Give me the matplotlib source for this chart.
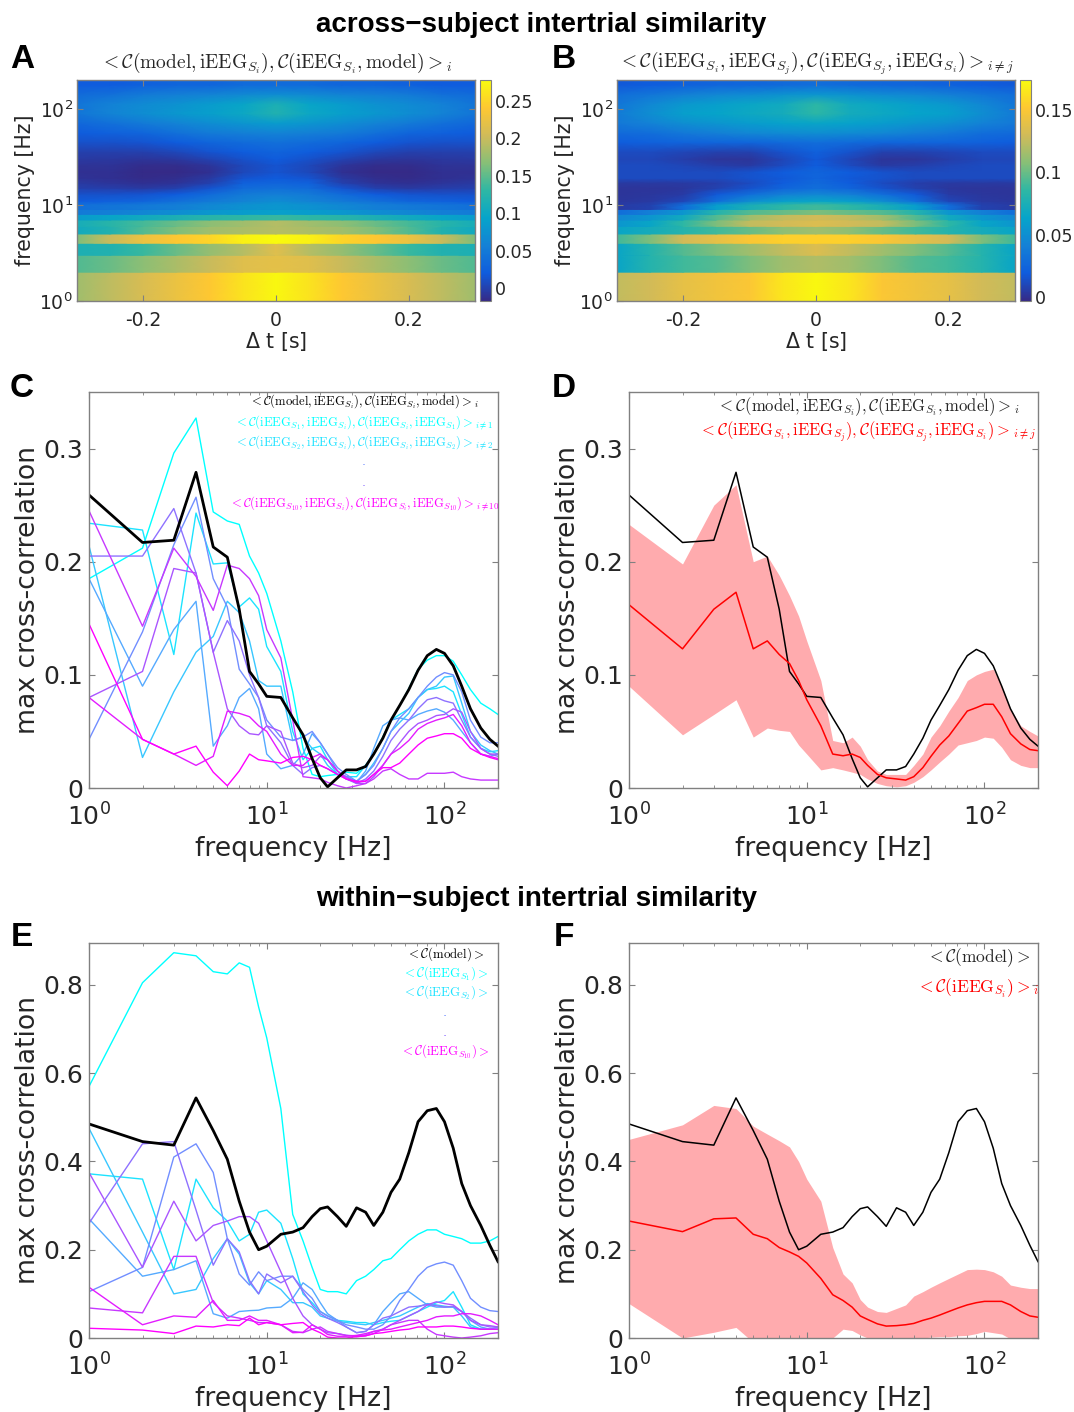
import numpy as np
import matplotlib
matplotlib.use("Agg")
import matplotlib.pyplot as plt
from matplotlib.colors import LinearSegmentedColormap, Normalize
from matplotlib.cm import ScalarMappable
from matplotlib.ticker import FixedLocator, NullFormatter, LogLocator

plt.rcParams['font.family'] = 'DejaVu Sans'
plt.rcParams['mathtext.fontset'] = 'dejavusans'

W, H = 1074, 1412
freqs = [1,2,3,4,5,6,7,8,9,10, 12,14,16,18,20, 22,25,28,32,36, 40,45,50,56,63, 71,80,90,100,112, 125,140,160,180,200]

# panel C
c_black = [.259,.217,.219,.279,.213,.204,.158,.103,.092,.081, .080,.062,.047,.026,.009, .001,.009,.016,.016,.019, .03,.044,.06,.073,.087, .104,.117,.1225,.119,.108, .09,.07,.053,.043,.037]
c_s1 = [.185,.212,.296,.327,.244,.236,.233,.205,.19,.172, .13,.085,.035,.012,.010, .011,.012,.014,.013,.02, .03,.045,.06,.073,.088, .105,.113,.117,.117,.112, .10,.087,.075,.07,.065]
c_s2 = [.234,.228,.118,.243,.198,.199,.16,.168,.158,.125, .103,.05,.025,.035,.037, .025,.012,.01,.01,.02, .03,.045,.06,.065,.07, .08,.087,.088,.09,.085, .065,.045,.035,.032,.033]
c_s3 = [.214,.027,.085,.12,.134,.165,.155,.13,.095,.09, .09,.042,.045,.035,.03, .02,.012,.01,.006,.012, .022,.035,.05,.058,.066, .08,.087,.09,.098,.099, .075,.05,.038,.033,.03]
c_s4 = [.185,.09,.14,.165,.037,.055,.08,.088,.07,.03, .017,.02,.03,.048,.04, .03,.015,.008,.005,.015, .035,.055,.06,.062,.06, .065,.068,.07,.067,.06, .05,.04,.03,.028,.03]
c_s5 = [.043,.138,.215,.257,.185,.16,.105,.092,.08,.06, .045,.042,.045,.05,.04, .03,.018,.012,.006,.012, .02,.035,.05,.062,.07, .08,.09,.098,.102,.10, .085,.06,.045,.04,.04]
c_s6 = [.205,.205,.247,.19,.12,.148,.13,.10,.08,.055, .04,.02,.012,.018,.02, .017,.012,.008,.004,.008, .015,.028,.042,.052,.06, .07,.078,.08,.077,.075, .06,.045,.035,.03,.028]
c_s7 = [.08,.103,.194,.19,.12,.07,.055,.048,.047,.055, .05,.022,.018,.02,.028, .025,.015,.01,.004,.004, .01,.02,.03,.04,.05, .057,.06,.064,.065,.07, .067,.05,.035,.03,.03]
c_s8 = [.245,.143,.212,.187,.157,.197,.194,.185,.17,.14, .115,.06,.01,.009,.008, .005,.002,0,.002,.004, .008,.015,.017,.012,.008, .008,.013,.013,.013,.014, .01,.008,.007,.007,.007]
c_s9 = [.08,.043,.03,.02,.028,.068,.066,.063,.055,.05, .03,.02,.02,.027,.03, .025,.015,.008,.005,.006, .012,.02,.03,.035,.042, .052,.057,.06,.062,.065, .055,.04,.03,.028,.026]
c_s10 = [.145,.043,.03,.037,.014,.002,.015,.03,.025,.024, .022,.027,.028,.025,.02, .017,.012,.008,.006,.006, .012,.018,.018,.022,.03, .038,.044,.046,.048,.048, .044,.035,.03,.027,.025]

# panel D
d_mean = [.162,.123,.158,.173,.123,.13,.118,.11,.095,.078, .055,.03,.0285,.03,.027, .02,.012,.009,.008,.007, .01,.018,.028,.038,.046, .057,.068,.071,.074,.074, .063,.048,.039,.034,.033]
d_hi = [.233,.198,.25,.268,.2,.205,.188,.17,.152,.13, .095,.042,.04,.045,.037, .025,.015,.012,.012,.012, .02,.03,.045,.055,.068, .08,.095,.10,.103,.105, .09,.07,.055,.05,.046]
d_lo = [.09,.047,.065,.078,.045,.053,.051,.05,.038,.03, .016,.018,.016,.014,.012, .008,.004,.002,.001,.002, .005,.01,.016,.023,.03, .038,.04,.042,.045,.044, .036,.025,.02,.018,.018]

# panel E
e_black = [.485,.445,.437,.544,.47,.405,.31,.24,.20,.208, .235,.24,.25,.275,.293, .297,.275,.253,.295,.285, .255,.285,.33,.36,.42, .49,.515,.52,.49,.43, .35,.30,.255,.21,.173]
e_s1 = [.57,.805,.873,.866,.83,.825,.85,.84,.75,.68, .52,.28,.22,.16,.11, .105,.105,.10,.13,.14, .155,.175,.18,.2,.22, .235,.245,.245,.235,.23, .225,.215,.215,.22,.23]
e_s2 = [.372,.36,.155,.36,.295,.265,.22,.235,.285,.29, .26,.18,.1,.08,.06, .05,.04,.038,.035,.035, .03,.035,.038,.04,.05, .06,.07,.08,.085,.105, .07,.03,.02,.02,.02]
e_s3 = [.475,.24,.10,.11,.18,.225,.19,.125,.10,.13, .11,.08,.08,.07,.05, .045,.038,.035,.032,.03, .035,.04,.045,.05,.06, .07,.078,.075,.072,.07, .05,.025,.02,.02,.02]
e_s4 = [.27,.14,.155,.175,.055,.045,.06,.062,.063,.068, .07,.09,.125,.11,.08, .055,.04,.025,.012,.015, .03,.06,.08,.10,.105, .09,.075,.07,.07,.07, .06,.04,.025,.02,.025]
e_s5 = [.105,.16,.41,.44,.375,.225,.145,.12,.15,.13, .14,.14,.11,.09,.06, .05,.04,.03,.025,.02, .02,.03,.05,.085,.11, .14,.16,.168,.172,.165, .13,.09,.07,.062,.06]
e_s6 = [.26,.44,.445,.29,.165,.225,.195,.13,.10,.145, .125,.14,.105,.075,.055, .045,.035,.025,.012,.015, .03,.045,.05,.06,.07, .072,.076,.073,.07,.072, .06,.045,.03,.025,.025]
e_s7 = [.375,.16,.31,.22,.255,.265,.275,.275,.26,.22, .15,.09,.05,.03,.02, .012,.01,.006,.005,.007, .015,.02,.03,.04,.05, .06,.075,.082,.078,.075, .06,.04,.03,.028,.025]
e_s8 = [.068,.057,.185,.185,.08,.05,.045,.04,.035,.035, .03,.015,.012,.02,.025, .015,.01,.006,.003,.005, .01,.02,.03,.035,.04, .04,.02,.008,.005,.002, 0,.002,.005,.01,.012]
e_s9 = [.115,.03,.05,.047,.085,.04,.04,.05,.04,.04, .03,.012,.013,.03,.02, .008,.004,.004,.006,.01, .015,.018,.02,.025,.03, .035,.04,.048,.05,.05, .055,.055,.05,.04,.03]
e_s10 = [.022,.018,.01,.027,.025,.03,.028,.045,.03,.035, .03,.033,.035,.02,.012, .002,0,0,.003,.005, .01,.012,.015,.018,.02, .025,.025,.025,.027,.027, .025,.022,.02,.02,.02]

# panel F
f_mean = [.265,.241,.27,.272,.235,.225,.205,.195,.185,.17, .135,.098,.085,.07,.05, .042,.032,.027,.028,.03, .033,.04,.045,.052,.06, .068,.075,.08,.083,.083, .083,.075,.06,.05,.047]
f_hi = [.45,.483,.527,.52,.48,.462,.447,.433,.40,.36, .31,.205,.145,.125,.087, .07,.06,.058,.067,.075, .095,.105,.115,.125,.135, .145,.155,.156,.155,.15, .14,.12,.115,.112,.112]
f_lo = [.078,0,.013,.024,-.01,-.03,-.03,-.03,-.03,-.03, -.02,0,.02,.017,.007, 0,-.005,-.005,-.005,-.004, -.002,0,.002,.003,.003, .005,.006,.01,.015,.012, .009,-.002,-.005,-.008,-.01]

# heatmaps: rows of frequency bands, columns at |lag|
lags_half = [0, .05, .1, .15, .2, .25, .3]
band_edges = [1,2,3,4,5,6,7,8,9,10,12,14,16,18,20,24,28,32,40,50,63,80,100,125,160,200]
heat_a = [
 [.275,.26,.24,.225,.21,.195,.18],
 [.22,.215,.20,.185,.17,.155,.145],
 [.215,.19,.175,.155,.135,.12,.115],
 [.278,.27,.25,.24,.225,.20,.165],
 [.19,.185,.18,.165,.145,.12,.105],
 [.19,.18,.17,.155,.14,.125,.11],
 [.135,.13,.125,.115,.105,.095,.085],
 [.09,.085,.08,.07,.062,.055,.05],
 [.08,.075,.065,.055,.05,.045,.04],
 [.07,.06,.05,.04,.03,.025,.02],
 [.055,.05,.035,.02,.015,.012,.012],
 [.04,.035,.015,0,-.005,-.002,0],
 [.03,.025,0,-.01,-.012,-.008,-.005],
 [.02,.015,-.005,-.013,-.015,-.012,-.01],
 [.015,.005,-.012,-.016,-.016,-.012,-.012],
 [.015,.005,-.008,-.014,-.014,-.01,-.01],
 [.02,.012,.002,-.006,-.008,-.006,-.005],
 [.028,.022,.015,.005,0,0,0],
 [.04,.035,.03,.02,.015,.012,.012],
 [.06,.055,.05,.04,.03,.025,.02],
 [.085,.078,.07,.06,.05,.04,.032],
 [.12,.10,.088,.08,.07,.06,.045],
 [.115,.095,.085,.075,.068,.058,.045],
 [.07,.065,.06,.055,.05,.04,.035],
 [.035,.035,.03,.03,.025,.02,.02],
]
heat_b = [
 [.172,.165,.15,.145,.14,.13,.125],
 [.12,.115,.105,.095,.09,.08,.065],
 [.135,.125,.115,.105,.095,.08,.065],
 [.155,.155,.15,.14,.13,.105,.09],
 [.115,.11,.10,.09,.08,.072,.065],
 [.135,.13,.125,.105,.085,.065,.055],
 [.13,.125,.115,.095,.07,.055,.045],
 [.105,.10,.095,.08,.055,.04,.03],
 [.09,.085,.075,.06,.03,.008,.005],
 [.065,.06,.05,.03,.01,.004,.003],
 [.045,.04,.03,.018,.005,.003,.002],
 [.03,.025,.015,.008,.003,.002,.002],
 [.028,.02,.012,.006,.004,.004,.004],
 [.025,.018,.015,.012,.012,.012,.012],
 [.025,.02,.015,.012,.012,.012,.012],
 [.02,.012,.004,.006,.01,.012,.012],
 [.018,.01,.002,.0025,.006,.01,.01],
 [.022,.015,.008,.008,.01,.012,.012],
 [.03,.028,.025,.025,.024,.022,.02],
 [.05,.048,.045,.04,.036,.03,.028],
 [.065,.062,.058,.054,.05,.042,.036],
 [.085,.072,.068,.064,.06,.05,.038],
 [.085,.07,.066,.06,.056,.046,.035],
 [.055,.052,.048,.045,.04,.035,.03],
 [.03,.028,.026,.025,.022,.02,.018],
]
cb_a_ticks = [0,.05,.1,.15,.2,.25]
cb_a_labels = ['0','0.05','0.1','0.15','0.2','0.25']
cb_b_ticks = [0,.05,.1,.15]
cb_b_labels = ['0','0.05','0.1','0.15']

parula = LinearSegmentedColormap.from_list('parula', ['#352a87','#0f5cdd','#1481d6','#06a4ca','#2eb7a4','#87bf77','#d1bb59','#fec832','#f9fb0e'])
GRAY = '#808080'
TXT = '#262626'

fig = plt.figure(figsize=(W/100, H/100), dpi=100, facecolor='white')

def axpx(l, t, r, b):
    return fig.add_axes([l/W, 1-b/H, (r-l)/W, (b-t)/H])

def ftext(x, y, s, **kw):
    kw.setdefault('ha', 'center'); kw.setdefault('va', 'center')
    return fig.text(x/W, 1-y/H, s, **kw)

def style(ax, size, xpad, ypad):
    for s in ax.spines.values():
        s.set_color(GRAY); s.set_linewidth(1.0)
    ax.tick_params(which='major', direction='in', top=True, right=True, length=4, width=.8, color=GRAY, labelsize=size, labelcolor=TXT)
    ax.tick_params(which='minor', direction='in', top=True, right=True, length=2, width=.6, color=GRAY)
    ax.tick_params(axis='x', which='major', pad=xpad)
    ax.tick_params(axis='y', which='major', pad=ypad)

def heat(l, r, data, vmin, vmax, ticks, labels):
    ax = axpx(l, 80, r, 301)
    arr = np.array(data)
    full = np.hstack([arr[:, :0:-1], arr])
    x = np.r_[-np.array(lags_half)[:0:-1], lags_half]
    ys, rows = [], []
    for i in range(len(band_edges)-1):
        lo, hi = band_edges[i], band_edges[i+1]
        if hi <= 10:
            ys += [lo, hi*0.9999]; rows += [full[i], full[i]]
        else:
            ys.append(np.sqrt(lo*hi)); rows.append(full[i])
    ys.append(band_edges[-1]); rows.append(full[-1])
    ax.pcolormesh(x, ys, np.array(rows), shading='gouraud', cmap=parula, vmin=vmin, vmax=vmax, rasterized=True)
    ax.set_yscale('log'); ax.set_ylim(1, 200); ax.set_xlim(-.3, .3)
    ax.set_xticks([-.2, 0, .2]); ax.set_xticklabels(['-0.2', '0', '0.2'])
    ax.yaxis.set_major_locator(FixedLocator([1, 10, 100]))
    ax.yaxis.set_minor_locator(FixedLocator([])); ax.yaxis.set_minor_formatter(NullFormatter())
    style(ax, 13.5, 7, 3)
    ax.set_xlabel(r'$\Delta$ t [s]', fontsize=14.8, color=TXT)
    ax.xaxis.set_label_coords(.5, -.185)
    ax.set_ylabel('frequency [Hz]', fontsize=14.8, color=TXT)
    ax.yaxis.set_label_coords(-.13, .5)
    ax.xaxis.label.set_va('center'); ax.yaxis.label.set_va('center')
    cax = axpx(r+5, 80, r+16, 301)
    cb = fig.colorbar(ScalarMappable(Normalize(vmin, vmax), parula), cax=cax)
    cb.set_ticks(ticks); cb.set_ticklabels(labels)
    cb.ax.tick_params(labelsize=12.5, length=0, labelcolor=TXT, pad=3)
    cb.outline.set_edgecolor(GRAY); cb.outline.set_linewidth(.8)

def linepanel(l, t, r, b, ymax, yticks, ylabels):
    ax = axpx(l, t, r, b)
    ax.set_xscale('log'); ax.set_xlim(1, 200); ax.set_ylim(0, ymax)
    ax.xaxis.set_major_locator(FixedLocator([1, 10, 100]))
    ax.xaxis.set_minor_locator(LogLocator(base=10, subs=range(2, 10), numticks=12))
    ax.xaxis.set_minor_formatter(NullFormatter())
    ax.set_yticks(yticks); ax.set_yticklabels(ylabels)
    style(ax, 18, 11, 4)
    ax.set_xlabel('frequency [Hz]', fontsize=19.2, color=TXT)
    ax.xaxis.set_label_coords(.5, -61/(b-t))
    ax.set_ylabel('max cross-correlation', fontsize=19.2, color=TXT)
    ax.yaxis.set_label_coords(-61/(r-l), .5)
    ax.xaxis.label.set_va('center'); ax.yaxis.label.set_va('center')
    return ax

c_series = [c_s1, c_s2, c_s3, c_s4, c_s5, c_s6, c_s7, c_s8, c_s9, c_s10]
e_series = [e_s1, e_s2, e_s3, e_s4, e_s5, e_s6, e_s7, e_s8, e_s9, e_s10]
cool = plt.get_cmap('cool')
cols = [cool(i/9) for i in range(10)]

# Titles
bold = dict(family='Liberation Sans', fontweight='bold', color='black')
ftext(541, 25, 'across\u2212subject intertrial similarity', fontsize=20, **bold)
ftext(537, 899, 'within\u2212subject intertrial similarity', fontsize=20, **bold)
for s, x, y in [('A', 22, 60), ('B', 564, 60), ('C', 22, 388), ('D', 564, 388), ('E', 22, 938), ('F', 564, 938)]:
    ftext(x, y, s, fontsize=24, **bold)

# A, B
heat(77, 475, heat_a, -.017, .278, cb_a_ticks, cb_a_labels)
heat(617, 1015, heat_b, -.003, .174, cb_b_ticks, cb_b_labels)
ftext(276, 63, r'$<\mathcal{C}(\mathrm{model,iEEG}_{S_i}),\mathcal{C}(\mathrm{iEEG}_{S_i},\mathrm{model})>_i$', fontsize=14, math_fontfamily='cm', color=TXT)
ftext(816, 63, r'$<\mathcal{C}(\mathrm{iEEG}_{S_i},\mathrm{iEEG}_{S_j}),\mathcal{C}(\mathrm{iEEG}_{S_j},\mathrm{iEEG}_{S_i})>_{i\neq j}$', fontsize=14, math_fontfamily='cm', color=TXT)

# C
ax = linepanel(89, 392, 498, 788, .35, [0, .1, .2, .3], ['0', '0.1', '0.2', '0.3'])
for y, col in zip(c_series, cols):
    ax.plot(freqs, y, color=col, lw=1.0)
ax.plot(freqs, c_black, color='k', lw=2.0)
ctexts = [(402, 'k', r'$<\mathcal{C}(\mathrm{model,iEEG}_{S_i}),\mathcal{C}(\mathrm{iEEG}_{S_i},\mathrm{model})>_i$'),
          (423, cols[0], r'$<\mathcal{C}(\mathrm{iEEG}_{S_1},\mathrm{iEEG}_{S_i}),\mathcal{C}(\mathrm{iEEG}_{S_i},\mathrm{iEEG}_{S_1})>_{i\neq 1}$'),
          (443, cols[1], r'$<\mathcal{C}(\mathrm{iEEG}_{S_2},\mathrm{iEEG}_{S_i}),\mathcal{C}(\mathrm{iEEG}_{S_i},\mathrm{iEEG}_{S_2})>_{i\neq 2}$'),
          (462, cols[4], '.'), (482, cols[5], '.'),
          (504, cols[9], r'$<\mathcal{C}(\mathrm{iEEG}_{S_{10}},\mathrm{iEEG}_{S_i}),\mathcal{C}(\mathrm{iEEG}_{S_i},\mathrm{iEEG}_{S_{10}})>_{i\neq 10}$')]
for y, c, s in ctexts:
    ftext(364, y, s, fontsize=9.1, math_fontfamily='cm', color=c)

# D
ax = linepanel(629, 392, 1038, 788, .35, [0, .1, .2, .3], ['0', '0.1', '0.2', '0.3'])
ax.fill_between(freqs, d_lo, d_hi, color='#ffabae', lw=0)
ax.plot(freqs, c_black, color='k', lw=1.1)
ax.plot(freqs, d_mean, color='r', lw=1.1)
ftext(868, 407, r'$<\mathcal{C}(\mathrm{model,iEEG}_{S_i}),\mathcal{C}(\mathrm{iEEG}_{S_i},\mathrm{model})>_i$', fontsize=12, math_fontfamily='cm', color=TXT)
ftext(867, 432, r'$<\mathcal{C}(\mathrm{iEEG}_{S_i},\mathrm{iEEG}_{S_j}),\mathcal{C}(\mathrm{iEEG}_{S_j},\mathrm{iEEG}_{S_i})>_{i\neq j}$', fontsize=11.9, math_fontfamily='cm', color='r')

# E
ax = linepanel(89, 943, 498, 1338, .895, [0, .2, .4, .6, .8], ['0', '0.2', '0.4', '0.6', '0.8'])
for y, col in zip(e_series, cols):
    ax.plot(freqs, y, color=col, lw=1.0)
ax.plot(freqs, e_black, color='k', lw=2.0)
etexts = [(954, 'k', r'$<\mathcal{C}(\mathrm{model})>$'),
          (974, cols[0], r'$<\mathcal{C}(\mathrm{iEEG}_{S_1})>$'),
          (993, cols[1], r'$<\mathcal{C}(\mathrm{iEEG}_{S_2})>$'),
          (1012, cols[4], '.'), (1032, cols[5], '.'),
          (1052, cols[9], r'$<\mathcal{C}(\mathrm{iEEG}_{S_{10}})>$')]
for y, c, s in etexts:
    ftext(445, y, s, fontsize=9.3, math_fontfamily='cm', color=c)

# F
ax = linepanel(629, 943, 1038, 1338, .895, [0, .2, .4, .6, .8], ['0', '0.2', '0.4', '0.6', '0.8'])
ax.fill_between(freqs, f_lo, f_hi, color='#ffabae', lw=0)
ax.plot(freqs, e_black, color='k', lw=1.1)
ax.plot(freqs, f_mean, color='r', lw=1.1)
ftext(978, 958, r'$<\mathcal{C}(\mathrm{model})>$', fontsize=12.5, math_fontfamily='cm', color=TXT)
ftext(978, 988, r'$<\mathcal{C}(\mathrm{iEEG}_{S_i})>_i$', fontsize=12.5, math_fontfamily='cm', color='r')

fig.savefig('out.png', dpi=100, facecolor='white')
